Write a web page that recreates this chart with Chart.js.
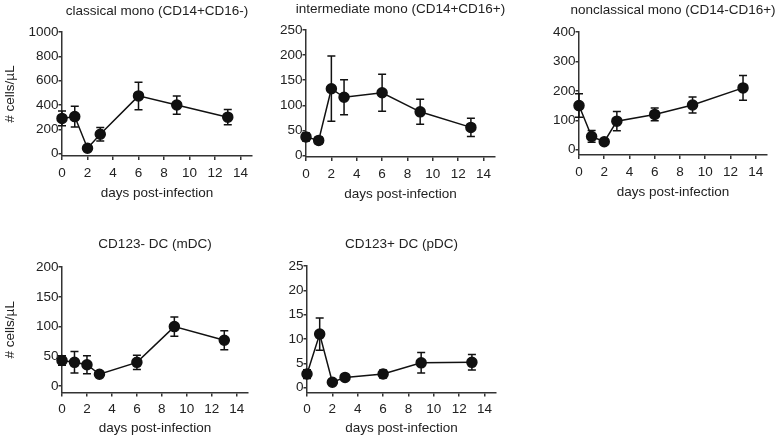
<!DOCTYPE html>
<html>
<head>
<meta charset="utf-8">
<script src="https://cdn.jsdelivr.net/npm/chart.js@4.4.1/dist/chart.umd.min.js"></script>
<style>
  html, body { margin: 0; padding: 0; background: #fff; }
  #wrap { position: relative; width: 777px; height: 436px; overflow: hidden; }
  .panel { position: absolute; }
</style>
</head>
<body>
<div id="wrap"></div>
<script>
// days sampled
const days = [0, 1, 2, 3, 6, 9, 13];
const xTicks = [0, 2, 4, 6, 8, 10, 12, 14];

// mean and SEM per population (cells/uL)
const classicalMean = [290, 305, 45, 160, 475, 400, 300];
const classicalErr = [60, 85, 10, 55, 113, 75, 63];
const intermediateMean = [37, 30, 133, 116, 125, 87, 56];
const intermediateErr = [8, 7, 65, 35, 37, 25, 18];
const nonclassicalMean = [150, 45, 27, 97, 120, 152, 210];
const nonclassicalErr = [40, 20, 5, 33, 22, 27, 42];
const mdcMean = [43, 40, 36, 20, 40, 100, 77];
const mdcErr = [8, 18, 15, 2, 12, 16, 16];
const pdcMean = [2.8, 11, 1.1, 2.1, 2.8, 5.1, 5.2];
const pdcErr = [0.9, 3.3, 0.2, 0.2, 0.8, 2.1, 1.6];

const classicalTicks = [0, 200, 400, 600, 800, 1000];
const intermediateTicks = [0, 50, 100, 150, 200, 250];
const nonclassicalTicks = [0, 100, 200, 300, 400];
const mdcTicks = [0, 50, 100, 150, 200];
const pdcTicks = [0, 5, 10, 15, 20, 25];

const FONT = "'Liberation Sans', Arial, Helvetica, sans-serif";
const INK = '#222';
const AXIS = '#333';

// draws vertical error bars with caps behind the points
const errorBars = {
    id: 'errorBars',
    beforeDatasetsDraw(chart) {
        const err = chart.options.plugins.errorBars.err;
        const ds = chart.data.datasets[0];
        const x = chart.scales.x, y = chart.scales.y;
        const c = chart.ctx;
        c.save();
        c.strokeStyle = '#111';
        c.lineWidth = 1.5;
        ds.data.forEach((p, i) => {
            const px = x.getPixelForValue(p.x);
            const top = y.getPixelForValue(p.y + err[i]);
            const bot = y.getPixelForValue(Math.max(p.y - err[i], 0));
            c.beginPath();
            c.moveTo(px, top); c.lineTo(px, bot);
            c.moveTo(px - 4, top); c.lineTo(px + 4, top);
            c.moveTo(px - 4, bot); c.lineTo(px + 4, bot);
            c.stroke();
        });
        c.restore();
    }
};

function makePanel(box, title, mean, err, yTicks, yMin, yTitle) {
    // an empty right axis as wide as the left one keeps the title centred over the plot
    const width = box.yWidth * 2 + box.plotWidth;
    const div = document.createElement('div');
    div.className = 'panel';
    div.style.left = box.left + 'px';
    div.style.top = box.top + 'px';
    div.style.width = width + 'px';
    div.style.height = box.height + 'px';
    const cv = document.createElement('canvas');
    div.appendChild(cv);
    document.getElementById('wrap').appendChild(div);

    new Chart(cv.getContext('2d'), {
        type: 'line',
        data: {
            datasets: [{
                data: days.map((d, i) => ({ x: d, y: mean[i] })),
                borderColor: '#111',
                borderWidth: 1.5,
                pointRadius: 5,
                pointBackgroundColor: '#111',
                pointBorderColor: '#111',
                tension: 0,
                clip: false
            }]
        },
        options: {
            responsive: true,
            maintainAspectRatio: false,
            animation: false,
            layout: { padding: 0 },
            plugins: {
                legend: { display: false },
                tooltip: { enabled: false },
                title: {
                    display: true,
                    text: title,
                    color: INK,
                    font: { family: FONT, size: 13.5, weight: 'normal' },
                    padding: { top: box.titleTop, bottom: box.titleBottom }
                },
                errorBars: { err: err }
            },
            scales: {
                x: {
                    type: 'linear',
                    min: 0,
                    max: 14.9,
                    afterBuildTicks: s => { s.ticks = xTicks.map(v => ({ value: v })); },
                    afterFit: s => { s.height = box.xHeight; },
                    grid: { drawOnChartArea: false, drawTicks: true, tickLength: 4, color: AXIS, lineWidth: 1.5 },
                    border: { display: true, color: AXIS, width: 1.5 },
                    ticks: { color: INK, font: { family: FONT, size: 13.5 }, padding: 5, maxRotation: 0, callback: v => String(v) },
                    title: {
                        display: true,
                        text: 'days post-infection',
                        color: INK,
                        font: { family: FONT, size: 13.5 },
                        padding: { top: 0, bottom: 0 }
                    }
                },
                y: {
                    min: yMin,
                    max: yTicks[yTicks.length - 1],
                    afterBuildTicks: s => { s.ticks = yTicks.map(v => ({ value: v })); },
                    afterFit: s => { s.width = box.yWidth; },
                    grid: { drawOnChartArea: false, drawTicks: true, tickLength: 3.5, color: AXIS, lineWidth: 1.5 },
                    border: { display: true, color: AXIS, width: 1.5 },
                    ticks: { color: INK, font: { family: FONT, size: 13.5 }, padding: 0, callback: v => String(v) },
                    title: {
                        display: !!yTitle,
                        text: yTitle || '',
                        color: INK,
                        font: { family: FONT, size: 13.5 },
                        padding: { top: 2, bottom: 0 }
                    }
                },
                spacer: {
                    position: 'right',
                    min: 0,
                    max: 1,
                    afterFit: s => { s.width = box.yWidth; },
                    grid: { display: false },
                    border: { display: false },
                    ticks: { display: false }
                }
            }
        },
        plugins: [errorBars]
    });
}

makePanel({ left: 0, top: 0, plotWidth: 190, height: 201, yWidth: 62, xHeight: 45, titleTop: 3, titleBottom: 12.8 },
    'classical mono (CD14+CD16-)', classicalMean, classicalErr, classicalTicks, -19, '# cells/µL');
makePanel({ left: 255, top: 0, plotWidth: 189, height: 202, yWidth: 51, xHeight: 45, titleTop: 1, titleBottom: 12.8 },
    'intermediate mono (CD14+CD16+)', intermediateMean, intermediateErr, intermediateTicks, -3);
makePanel({ left: 520, top: 0, plotWidth: 188, height: 200, yWidth: 59, xHeight: 45, titleTop: 2, titleBottom: 13.8 },
    'nonclassical mono (CD14-CD16+)', nonclassicalMean, nonclassicalErr, nonclassicalTicks, -18);
makePanel({ left: 0, top: 230, plotWidth: 186, height: 206, yWidth: 62, xHeight: 43.5, titleTop: 5.9, titleBottom: 14.9 },
    'CD123- DC (mDC)', mdcMean, mdcErr, mdcTicks, -10.6, '# cells/µL');
makePanel({ left: 255, top: 230, plotWidth: 189, height: 206, yWidth: 52, xHeight: 43.5, titleTop: 5.9, titleBottom: 13.9 },
    'CD123+ DC (pDC)', pdcMean, pdcErr, pdcTicks, -1.0);
</script>
</body>
</html>
